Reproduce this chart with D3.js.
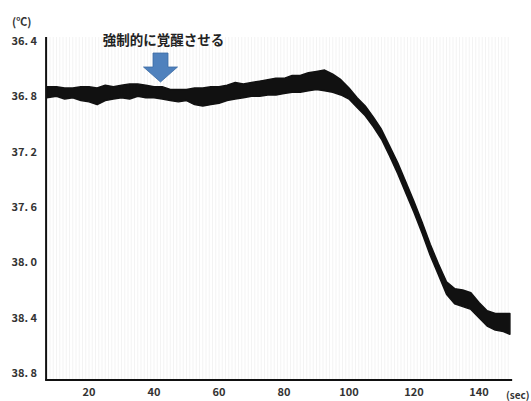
<!DOCTYPE html>
<html>
<head>
<meta charset="utf-8">
<script src="https://cdn.jsdelivr.net/npm/d3@7"></script>
<style>
  body { margin: 0; background: #fff; }
  svg { display: block; }
  text { font-family: "Noto Sans CJK JP", "Noto Sans", sans-serif; }
</style>
</head>
<body>
<svg width="531" height="401"></svg>
<script>
// data: time in sec, upper / lower edge of the noisy trace in ℃
const seconds = [7, 10, 12.5, 15, 17.5, 20, 22.5, 25, 27.5, 30, 32.5, 35, 37.5, 40, 42.5, 45, 47.5, 50,
  52.5, 55, 57.5, 60, 62.5, 65, 67.5, 70, 72.5, 75, 77.5, 80, 82.5, 85, 87.5, 90, 92.5, 95, 97.5, 100,
  102.5, 105, 107.5, 110, 112.5, 115, 117.5, 120, 122.5, 125, 127.5, 130, 132.5, 135, 137.5, 140,
  142.5, 145, 147.5, 149.5];
const tempTop = [36.73, 36.73, 36.74, 36.74, 36.73, 36.73, 36.74, 36.72, 36.73, 36.72, 36.71, 36.71, 36.72, 36.73, 36.73, 36.75, 36.75, 36.75,
  36.74, 36.74, 36.73, 36.73, 36.72, 36.70, 36.71, 36.70, 36.69, 36.68, 36.67, 36.67, 36.65, 36.65, 36.63, 36.62, 36.61, 36.64, 36.68, 36.74,
  36.81, 36.87, 36.95, 37.04, 37.16, 37.28, 37.42, 37.56, 37.71, 37.87, 38.01, 38.14, 38.19, 38.20, 38.22, 38.29,
  38.35, 38.37, 38.37, 38.37];
const tempBottom = [36.81, 36.80, 36.82, 36.81, 36.83, 36.84, 36.86, 36.83, 36.82, 36.81, 36.82, 36.80, 36.81, 36.81, 36.82, 36.83, 36.84, 36.83,
  36.86, 36.87, 36.86, 36.85, 36.83, 36.82, 36.81, 36.80, 36.80, 36.79, 36.79, 36.78, 36.77, 36.77, 36.76, 36.75, 36.76, 36.77, 36.79, 36.82,
  36.88, 36.94, 37.02, 37.11, 37.23, 37.36, 37.50, 37.64, 37.79, 37.95, 38.09, 38.23, 38.30, 38.32, 38.34, 38.40,
  38.46, 38.49, 38.50, 38.52];

const yTicks = [36.4, 36.8, 37.2, 37.6, 38.0, 38.4, 38.8];
const yTickLabels = ["36. 4", "36. 8", "37. 2", "37. 6", "38. 0", "38. 4", "38. 8"];
const xTicks = [20, 40, 60, 80, 100, 120, 140];
const annotation = "強制的に覚醒させる";
const arrowAt = 42;

const svg = d3.select("svg");

const x = d3.scaleLinear().domain([20, 140]).range([89, 479]);
const y = d3.scaleLinear().domain([36.4, 38.8]).range([41, 373]);

const x0 = x(6.8), x1 = x(150.2);
const yTop = 37, yBottom = 380;

// faint vertical grid
svg.append("g")
  .selectAll("line")
  .data(d3.range(8, 150, 1))
  .join("line")
  .attr("x1", d => x(d)).attr("x2", d => x(d))
  .attr("y1", yTop).attr("y2", yBottom)
  .attr("stroke", "#f3f3f3")
  .attr("stroke-width", 1);

// the trace as a band between upper and lower edge
const band = seconds.map((s, i) => ({ s, hi: tempTop[i], lo: tempBottom[i] }));

svg.append("path")
  .datum(band)
  .attr("fill", "#111")
  .attr("stroke", "#111")
  .attr("stroke-width", 1.5)
  .attr("stroke-linejoin", "round")
  .attr("d", d3.area()
    .x(d => x(d.s))
    .y0(d => y(d.lo))
    .y1(d => y(d.hi)));

// axes
svg.append("line")
  .attr("x1", x0).attr("x2", x0)
  .attr("y1", yTop).attr("y2", yBottom)
  .attr("stroke", "#111").attr("stroke-width", 2);
svg.append("line")
  .attr("x1", x0 - 1).attr("x2", x1)
  .attr("y1", yBottom).attr("y2", yBottom)
  .attr("stroke", "#111").attr("stroke-width", 2);

svg.append("g")
  .selectAll("text")
  .data(yTicks)
  .join("text")
  .attr("x", 37)
  .attr("y", d => y(d))
  .attr("dy", "0.35em")
  .attr("text-anchor", "end")
  .attr("font-size", 11)
  .attr("font-weight", "bold")
  .attr("fill", "#333")
  .text((d, i) => yTickLabels[i]);

svg.append("g")
  .selectAll("text")
  .data(xTicks)
  .join("text")
  .attr("x", d => x(d))
  .attr("y", 396)
  .attr("text-anchor", "middle")
  .attr("font-size", 11)
  .attr("font-weight", "bold")
  .attr("fill", "#333")
  .text(d => d);

svg.append("text")
  .attr("x", 12).attr("y", 26)
  .attr("font-size", 11)
  .attr("font-weight", "bold")
  .attr("fill", "#333")
  .text("(℃)");

svg.append("text")
  .attr("x", 506).attr("y", 399)
  .attr("font-size", 10)
  .attr("font-weight", "bold")
  .attr("fill", "#333")
  .text("(sec)");

// annotation and arrow
svg.append("text")
  .attr("x", x(arrowAt) + 3).attr("y", 45)
  .attr("text-anchor", "middle")
  .attr("font-size", 13.5)
  .attr("font-weight", "bold")
  .attr("fill", "#222")
  .text(annotation);

const ax = x(arrowAt);
const arrow = [[-7.5, 53], [7.5, 53], [7.5, 67], [17, 67], [0, 82], [-17, 67], [-7.5, 67]];
svg.append("path")
  .attr("d", d3.line()(arrow.map(p => [ax + p[0], p[1]])) + "Z")
  .attr("fill", "#4f81bd")
  .attr("stroke", "#3a6aa3")
  .attr("stroke-width", 0.8);
</script>
</body>
</html>
